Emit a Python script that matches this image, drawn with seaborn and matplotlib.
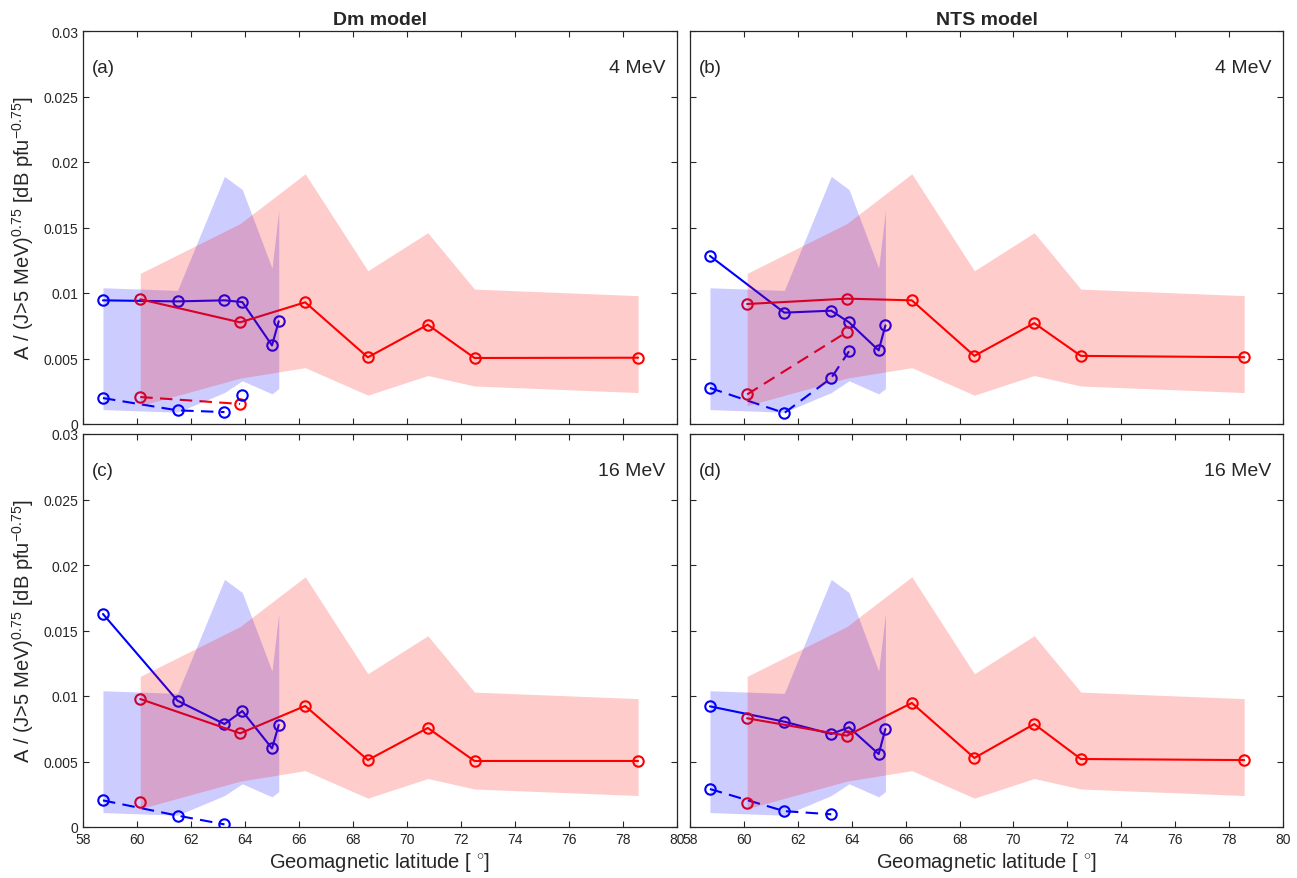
import numpy as np
import pandas as pd
import seaborn as sns
import matplotlib
matplotlib.use('Agg')
import matplotlib.pyplot as plt
from matplotlib.ticker import FuncFormatter

# =============================================================================
# DATA
# =============================================================================
# latitude of the two station groups
blue_lat = [58.74, 61.50, 63.24, 63.90, 65.00, 65.25]
red_lat = [60.12, 63.82, 66.23, 68.55, 70.77, 72.50, 78.56]

# shaded envelopes (same in every panel)
blue_hi = [0.0104, 0.0102, 0.0189, 0.0179, 0.0119, 0.0163]
blue_lo = [0.0011, 0.0009, 0.0024, 0.0033, 0.0023, 0.0027]
red_hi = [0.0115, 0.0153, 0.0191, 0.0117, 0.0146, 0.0103, 0.0098]
red_lo = [0.0014, 0.0035, 0.0043, 0.0022, 0.0037, 0.0029, 0.0024]

# (a) Dm model, 4 MeV
a_blue_solid = [0.00944, 0.00936, 0.00944, 0.00931, 0.0060, 0.00784]
a_blue_dash = [0.00198, 0.00104, 0.00091]
a_blue_extra = [0.00224]          # lone point at ~63.9
a_red_solid = [0.00952, 0.00776, 0.00929, 0.00509, 0.00758, 0.00504, 0.00506]
a_red_dash = [0.00206, 0.00153]

# (b) NTS model, 4 MeV
b_blue_solid = [0.01283, 0.0085, 0.00865, 0.00776, 0.00562, 0.00753]
b_blue_dash = [0.00275, 0.00084, 0.00351, 0.00555]
b_red_solid = [0.00916, 0.00957, 0.00944, 0.0052, 0.0077, 0.0052, 0.0051]
b_red_dash = [0.00226, 0.00702]

# (c) Dm model, 16 MeV
c_blue_solid = [0.01626, 0.00964, 0.00786, 0.00885, 0.0060, 0.00779]
c_blue_dash = [0.00203, 0.00087, 0.0002]
c_red_solid = [0.00977, 0.00715, 0.00924, 0.00511, 0.00756, 0.00504, 0.00504]
c_red_dash = [0.00193]

# (d) NTS model, 16 MeV
d_blue_solid = [0.00921, 0.00804, 0.0071, 0.00761, 0.00557, 0.00748]
d_blue_dash = [0.0029, 0.00121, 0.00097]
d_red_solid = [0.0083, 0.00697, 0.00947, 0.00527, 0.00786, 0.00519, 0.00511]
d_red_dash = [0.00183]

panel_labels = ['(a)', '(b)', '(c)', '(d)']
energies = ['4 MeV', '4 MeV', '16 MeV', '16 MeV']
titles = ['Dm model', 'NTS model']
x_ticks = list(range(58, 81, 2))
y_ticks = [0, 0.005, 0.01, 0.015, 0.02, 0.025, 0.03]

# =============================================================================
# STYLE
# =============================================================================
sns.set_style('ticks')
plt.rcParams['font.family'] = ['Liberation Sans', 'DejaVu Sans']
plt.rcParams['mathtext.fontset'] = 'custom'
plt.rcParams['mathtext.rm'] = 'Liberation Sans'
plt.rcParams['mathtext.it'] = 'Liberation Sans:italic'
plt.rcParams['xtick.direction'] = 'in'
plt.rcParams['ytick.direction'] = 'in'
plt.rcParams['axes.edgecolor'] = '#262626'
plt.rcParams['axes.linewidth'] = 0.9

BLUE = '#0000ff'
RED = '#ff0000'
dash_pat = (6.0, 3.5)

fig = plt.figure(figsize=(12.97, 8.79), dpi=100)
W, H = 1297.0, 879.0
boxes = [(83, 32, 677, 425), (690, 32, 1283, 425),
         (83, 435, 677, 828), (690, 435, 1283, 828)]
axes = []
for (l, t, r, b) in boxes:
    axes.append(fig.add_axes([l / W, 1 - b / H, (r - l) / W, (b - t) / H]))

panels = [
    (a_blue_solid, a_blue_dash, a_red_solid, a_red_dash),
    (b_blue_solid, b_blue_dash, b_red_solid, b_red_dash),
    (c_blue_solid, c_blue_dash, c_red_solid, c_red_dash),
    (d_blue_solid, d_blue_dash, d_red_solid, d_red_dash),
]


def draw_line(ax, x, y, color, dashed=False):
    df = pd.DataFrame({'lat': x[:len(y)], 'val': y})
    ls = (0, dash_pat) if dashed else '-'
    sns.lineplot(data=df, x='lat', y='val', ax=ax, color=color, sort=False,
                 estimator=None, legend=False, zorder=2, linestyle=ls,
                 linewidth=1.5, marker='o', markersize=7.5,
                 markerfacecolor='none', markeredgecolor=color,
                 markeredgewidth=1.5)


for i, ax in enumerate(axes):
    bs, bd, rs, rd = panels[i]

    draw_line(ax, blue_lat, bs, BLUE)
    draw_line(ax, blue_lat, bd, BLUE, dashed=True)
    draw_line(ax, red_lat, rs, RED)
    draw_line(ax, red_lat, rd, RED, dashed=True)
    if i == 0:
        ax.plot(blue_lat[3:4], a_blue_extra, linestyle='none', marker='o',
                markersize=7.5, markerfacecolor='none', markeredgecolor=BLUE,
                markeredgewidth=1.5, zorder=2)

    # envelopes drawn on top, semi-transparent
    ax.fill_between(blue_lat, blue_lo, blue_hi, color=BLUE, alpha=0.2,
                    linewidth=0, zorder=3)
    ax.fill_between(red_lat, red_lo, red_hi, color=RED, alpha=0.2,
                    linewidth=0, zorder=3)

    ax.set_xlim(58, 80)
    ax.set_ylim(0, 0.03)
    ax.set_xticks(x_ticks)
    ax.set_yticks(y_ticks)
    ax.yaxis.set_major_formatter(FuncFormatter(lambda v, p: '%g' % v))
    ax.tick_params(axis='both', which='both', top=True, right=True,
                   length=4, width=0.8, labelsize=10, colors='#262626')
    ax.set_xlabel('')
    ax.set_ylabel('')

    if i < 2:
        ax.set_xticklabels([])
        ax.set_title(titles[i], fontsize=14, fontweight='bold', pad=5)
    else:
        ax.set_xlabel('Geomagnetic latitude [ $^{\\circ}$]', fontsize=14.5,
                      labelpad=3)
    if i % 2 == 1:
        ax.set_yticklabels([])
    else:
        ax.set_ylabel('A / (J>5 MeV)$^{0.75}$ [dB pfu$^{-0.75}$]',
                      fontsize=14.5, labelpad=5)

    ax.text(0.015, 0.908, panel_labels[i], transform=ax.transAxes,
            fontsize=13.5, ha='left', va='center')
    ax.text(0.98, 0.908, energies[i], transform=ax.transAxes,
            fontsize=14, ha='right', va='center')

fig.savefig('out.png', dpi=100)
